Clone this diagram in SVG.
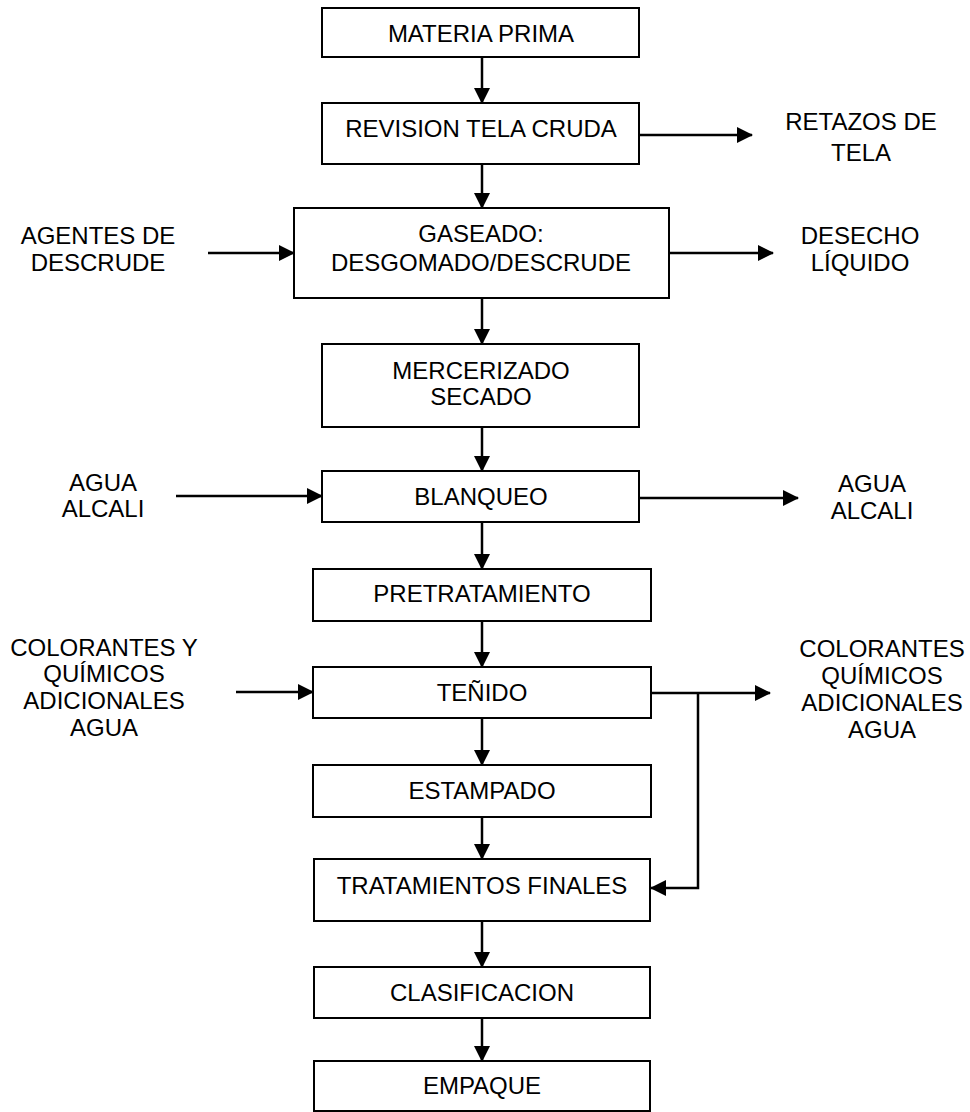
<svg xmlns="http://www.w3.org/2000/svg" width="970" height="1112" viewBox="0 0 970 1112">
<defs>
<marker id="ah" markerUnits="userSpaceOnUse" markerWidth="16" markerHeight="16" refX="15" refY="8" orient="auto">
<path d="M0,0 L16,8 L0,16 z" fill="#000"/>
</marker>
<style>
.box{fill:#fff;stroke:#000;stroke-width:2}
.t{font-family:"Liberation Sans",Arial,sans-serif;font-size:24px;fill:#000;text-anchor:middle}
.c{fill:none;stroke:#000;stroke-width:2.5;marker-end:url(#ah)}
</style>
</defs>
<rect width="970" height="1112" fill="#fff"/>
<g id="connectors">
<line class="c" x1="482" y1="57" x2="482" y2="103"/>
<line class="c" x1="482" y1="164" x2="482" y2="208"/>
<line class="c" x1="482" y1="298" x2="482" y2="344"/>
<line class="c" x1="482" y1="427" x2="482" y2="471"/>
<line class="c" x1="482" y1="522" x2="482" y2="569"/>
<line class="c" x1="482" y1="621" x2="482" y2="667"/>
<line class="c" x1="482" y1="718" x2="482" y2="765"/>
<line class="c" x1="482" y1="817" x2="482" y2="859"/>
<line class="c" x1="482" y1="921" x2="482" y2="967"/>
<line class="c" x1="482" y1="1018" x2="482" y2="1061"/>
<line class="c" x1="639" y1="135" x2="752" y2="135"/>
<line class="c" x1="208" y1="253" x2="294" y2="253"/>
<line class="c" x1="669" y1="253" x2="773" y2="253"/>
<line class="c" x1="176" y1="496" x2="322" y2="496"/>
<line class="c" x1="639" y1="498" x2="798" y2="498"/>
<line class="c" x1="236" y1="692" x2="313" y2="692"/>
<line class="c" x1="651" y1="693" x2="770" y2="693"/>
<path class="c" d="M698,693 V888 H651"/>
</g>
<g id="n-materia"><rect class="box" x="322" y="8" width="317" height="49"/><text class="t" x="481" y="41.5">MATERIA PRIMA</text></g>
<g id="n-revision"><rect class="box" x="322" y="103" width="317" height="61"/><text class="t" x="481" y="136.5">REVISION TELA CRUDA</text></g>
<g id="n-gaseado"><rect class="box" x="294" y="208" width="375" height="90"/><text class="t" x="481" y="241.5">GASEADO:</text><text class="t" x="481" y="270.5">DESGOMADO/DESCRUDE</text></g>
<g id="n-mercerizado"><rect class="box" x="322" y="344" width="317" height="83"/><text class="t" x="481" y="378.5">MERCERIZADO</text><text class="t" x="481" y="404.5">SECADO</text></g>
<g id="n-blanqueo"><rect class="box" x="322" y="471" width="317" height="51"/><text class="t" x="481" y="504.5">BLANQUEO</text></g>
<g id="n-pretratamiento"><rect class="box" x="313" y="569" width="338" height="52"/><text class="t" x="482" y="601.5">PRETRATAMIENTO</text></g>
<g id="n-tenido"><rect class="box" x="313" y="667" width="338" height="51"/><text class="t" x="482" y="700.5">TEÑIDO</text></g>
<g id="n-estampado"><rect class="box" x="313" y="765" width="338" height="52"/><text class="t" x="482" y="798.5">ESTAMPADO</text></g>
<g id="n-tratamientos"><rect class="box" x="314" y="859" width="336" height="62"/><text class="t" x="482" y="893.5">TRATAMIENTOS FINALES</text></g>
<g id="n-clasificacion"><rect class="box" x="314" y="967" width="336" height="51"/><text class="t" x="482" y="1000.5">CLASIFICACION</text></g>
<g id="n-empaque"><rect class="box" x="314" y="1061" width="336" height="50"/><text class="t" x="482" y="1093.5">EMPAQUE</text></g>
<g id="l-retazos"><text class="t" x="861" y="130">RETAZOS DE</text><text class="t" x="861" y="161">TELA</text></g>
<g id="l-agentes"><text class="t" x="98" y="243.5">AGENTES DE</text><text class="t" x="98" y="270.5">DESCRUDE</text></g>
<g id="l-desecho"><text class="t" x="860" y="243.5">DESECHO</text><text class="t" x="860" y="270.5">LÍQUIDO</text></g>
<g id="l-agua-in"><text class="t" x="103" y="490.5">AGUA</text><text class="t" x="103" y="516.5">ALCALI</text></g>
<g id="l-agua-out"><text class="t" x="872" y="491.5">AGUA</text><text class="t" x="872" y="518.5">ALCALI</text></g>
<g id="l-colorantes-in"><text class="t" x="104" y="655.5">COLORANTES Y</text><text class="t" x="104" y="682">QUÍMICOS</text><text class="t" x="104" y="709">ADICIONALES</text><text class="t" x="104" y="736">AGUA</text></g>
<g id="l-colorantes-out"><text class="t" x="882" y="656.5">COLORANTES</text><text class="t" x="882" y="684">QUÍMICOS</text><text class="t" x="882" y="711">ADICIONALES</text><text class="t" x="882" y="738">AGUA</text></g>
</svg>
